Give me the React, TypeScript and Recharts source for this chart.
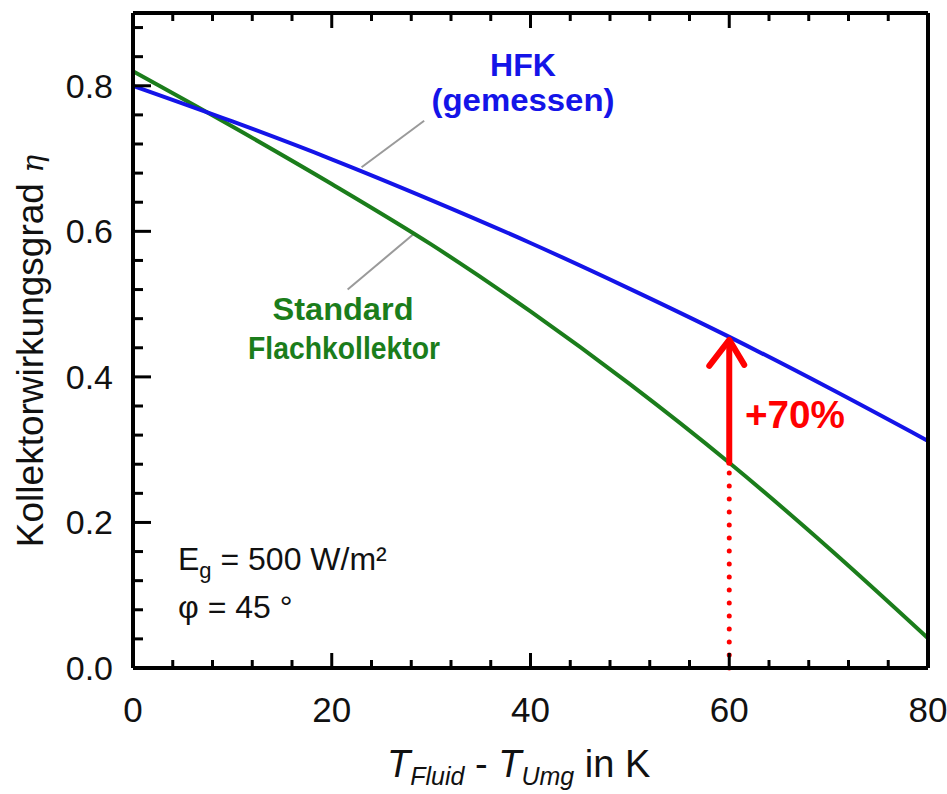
import { Line, LineChart, ReferenceLine, XAxis, YAxis } from "recharts"

const tempDiff = [0, 10, 20, 30, 40, 50, 60, 70, 80]
const hfkEta = [0.8, 0.751, 0.699, 0.643, 0.584, 0.521, 0.455, 0.385, 0.312]
const standardEta = [0.82, 0.744, 0.665, 0.582, 0.49, 0.39, 0.282, 0.165, 0.041]

const xTicks = [0, 4, 8, 12, 16, 20, 24, 28, 32, 36, 40, 44, 48, 52, 56, 60, 64, 68, 72, 76, 80]
const xMajor = [0, 20, 40, 60, 80]
const yTicks = [0, 0.04, 0.08, 0.12, 0.16, 0.2, 0.24, 0.28, 0.32, 0.36, 0.4, 0.44, 0.48, 0.52, 0.56, 0.6, 0.64, 0.68, 0.72, 0.76, 0.8, 0.84, 0.88]
const yMajor = [0, 0.2, 0.4, 0.6, 0.8]

// the +70% comparison point
const compareAt = 60
const hfkAt60 = 0.455
const standardAt60 = 0.282

const FONT = '"Liberation Sans", Arial, sans-serif'
const BLUE = "#1414e8"
const GREEN = "#1b7d1b"
const RED = "#ff0000"

const isMajor = (v: number, list: number[]) => list.some(m => Math.abs(m - v) < 1e-6)

function BottomTick(props: any) {
  const { x, y, payload } = props
  const major = isMajor(payload.value, xMajor)
  return (
    <g>
      <line x1={x} x2={x} y1={y} y2={y - (major ? 15 : 8)} stroke="#000" strokeWidth={3} />
      {major && (
        <text x={x} y={y + 54} textAnchor="middle" fontSize={35} fontFamily={FONT} fill="#111">
          {payload.value}
        </text>
      )}
    </g>
  )
}

function TopTick(props: any) {
  const { x, y, payload } = props
  const major = isMajor(payload.value, xMajor)
  return <line x1={x} x2={x} y1={y} y2={y + (major ? 15 : 8)} stroke="#000" strokeWidth={3} />
}

function LeftTick(props: any) {
  const { x, y, payload } = props
  const major = isMajor(payload.value, yMajor)
  return (
    <g>
      <line x1={x} x2={x + (major ? 18 : 10)} y1={y} y2={y} stroke="#000" strokeWidth={3} />
      {major && (
        <text x={x - 20} y={y + 12} textAnchor="end" fontSize={34} fontFamily={FONT} fill="#111">
          {payload.value.toFixed(1)}
        </text>
      )}
    </g>
  )
}

function RightTick(props: any) {
  const { x, y, payload } = props
  const major = isMajor(payload.value, yMajor)
  return <line x1={x} x2={x - (major ? 18 : 10)} y1={y} y2={y} stroke="#000" strokeWidth={3} />
}

function Arrow(props: any) {
  const { x1, y1, x2, y2 } = props
  const tipY = Math.min(y1, y2) + 3
  const baseY = Math.max(y1, y2)
  return (
    <g stroke={RED} strokeWidth={6} fill="none" strokeLinecap="round" strokeLinejoin="round">
      <line x1={x1} x2={x2} y1={baseY} y2={tipY + 4} />
      <polyline points={`${x1 - 20},${tipY + 26} ${x1},${tipY} ${x1 + 15},${tipY + 25}`} />
    </g>
  )
}

export default function App() {
  const data = tempDiff.map((t, i) => ({ t, hfk: hfkEta[i], standard: standardEta[i] }))
  const axisLine = { stroke: "#000", strokeWidth: 4 }

  return (
    <div style={{ position: "absolute", left: 0, top: 0, width: 947, height: 794, background: "#fff" }}>
      <LineChart width={947} height={794} data={data} margin={{ top: 12, right: 18, bottom: 125, left: 132 }}>
        <XAxis dataKey="t" type="number" domain={[0, 80]} ticks={xTicks} interval={0} height={1}
          tickSize={0} tickMargin={0} tickLine={false} tick={<BottomTick />} axisLine={axisLine} />
        <XAxis xAxisId="top" orientation="top" dataKey="t" type="number" domain={[0, 80]} ticks={xTicks}
          interval={0} height={1} tickSize={0} tickMargin={0} tickLine={false} tick={<TopTick />}
          axisLine={axisLine} />
        <YAxis type="number" domain={[0, 0.9]} ticks={yTicks} interval={0} width={1}
          tickSize={0} tickMargin={0} tickLine={false} tick={<LeftTick />} axisLine={axisLine} />
        <YAxis yAxisId="right" orientation="right" type="number" domain={[0, 0.9]} ticks={yTicks}
          interval={0} width={1} tickSize={0} tickMargin={0} tickLine={false} tick={<RightTick />}
          axisLine={axisLine} />

        <ReferenceLine segment={[{ x: 23, y: 0.688 }, { x: 29.3, y: 0.752 }]} stroke="#9a9a9a" strokeWidth={2} />
        <ReferenceLine segment={[{ x: 28.3, y: 0.597 }, { x: 21.6, y: 0.52 }]} stroke="#9a9a9a" strokeWidth={2} />

        <Line type="monotone" dataKey="standard" stroke={GREEN} strokeWidth={4} dot={false} isAnimationActive={false} />
        <Line type="monotone" dataKey="hfk" stroke={BLUE} strokeWidth={4} dot={false} isAnimationActive={false} />

        <ReferenceLine segment={[{ x: compareAt, y: 0 }, { x: compareAt, y: standardAt60 }]} stroke={RED}
          strokeWidth={5} strokeDasharray="0 13" strokeLinecap="round" />
        <ReferenceLine segment={[{ x: compareAt, y: standardAt60 }, { x: compareAt, y: hfkAt60 }]} shape={<Arrow />} />
      </LineChart>

      <svg width={947} height={794} style={{ position: "absolute", left: 0, top: 0, pointerEvents: "none" }}>
        <g fontFamily={FONT} fontWeight="bold" textAnchor="middle">
          <text x={523} y={76} fontSize={32} fill={BLUE}>HFK</text>
          <text x={523} y={111} fontSize={32} fill={BLUE} textLength={183} lengthAdjust="spacingAndGlyphs">(gemessen)</text>
          <text x={343} y={320} fontSize={32} fill={GREEN} textLength={141} lengthAdjust="spacingAndGlyphs">Standard</text>
          <text x={344} y={359} fontSize={32} fill={GREEN} textLength={192} lengthAdjust="spacingAndGlyphs">Flachkollektor</text>
          <text x={795} y={428} fontSize={39} fill={RED} textLength={100} lengthAdjust="spacingAndGlyphs">+70%</text>
        </g>
        <g fontFamily={FONT} fill="#111">
          <text x={178} y={570} fontSize={32}>
            E<tspan fontSize={22} dy={8}>g</tspan><tspan dy={-8}> = 500 W/m²</tspan>
          </text>
          <text x={178} y={618} fontSize={32}>φ = 45 °</text>
          <text transform="translate(43,351) rotate(-90)" textAnchor="middle" fontSize={37}>
            Kollektorwirkungsgrad <tspan fontStyle="italic" fontFamily="DejaVu Serif" fontSize={30}>η</tspan>
          </text>
          <text x={387} y={777} fontSize={38}>
            <tspan fontStyle="italic">T</tspan>
            <tspan fontStyle="italic" fontSize={25} dy={8}>Fluid</tspan>
            <tspan dy={-8}>{"  -  "}</tspan>
            <tspan fontStyle="italic">T</tspan>
            <tspan fontStyle="italic" fontSize={25} dy={8}>Umg</tspan>
            <tspan dy={-8}> in K</tspan>
          </text>
        </g>
      </svg>
    </div>
  )
}
